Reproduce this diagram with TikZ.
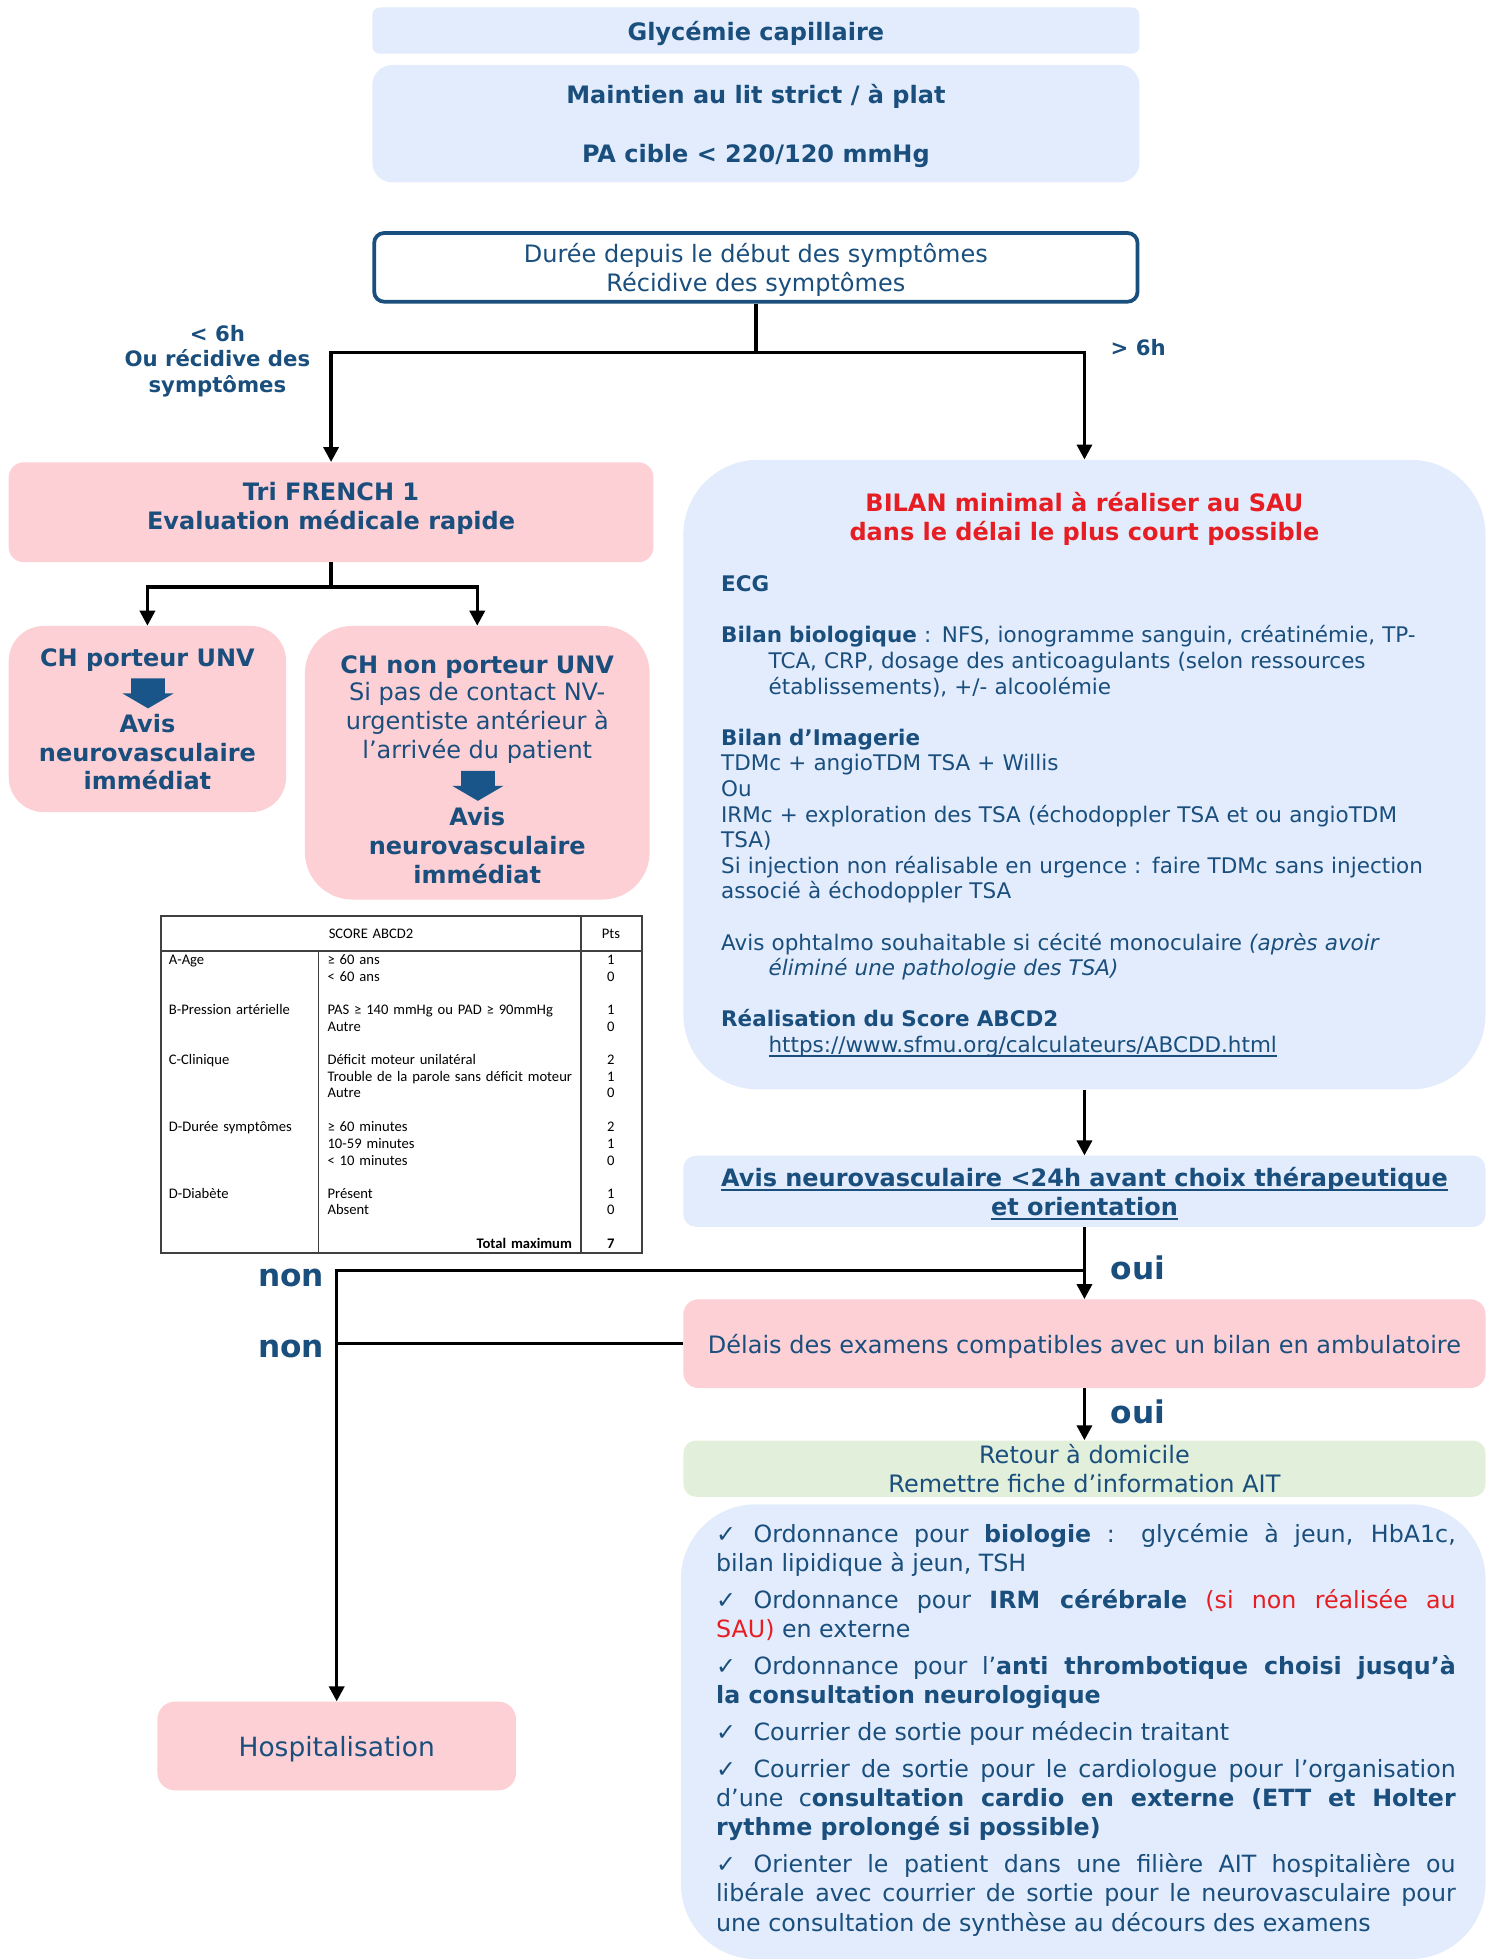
\documentclass[tikz,border=0pt]{standalone}
\usepackage{fontspec}
\setmainfont{DejaVu Sans}
\newfontfamily\tabfont{Carlito}
\usepackage{tikz}
\usetikzlibrary{arrows.meta,positioning,shapes}
\usepackage{xcolor}
\definecolor{avcblue}{RGB}{25,78,125}
\definecolor{avclight}{RGB}{226,236,252}
\definecolor{avcpink}{RGB}{253,208,213}
\definecolor{avcgreen}{RGB}{226,239,218}
\definecolor{avcred}{RGB}{230,30,36}
\definecolor{avcarrow}{RGB}{26,85,138}
\newcommand{\fbase}{\fontsize{19.2}{23}\selectfont}
\newcommand{\fbilan}{\fontsize{17.2}{20.5}\selectfont}
\newcommand{\fliste}{\fontsize{19}{23.3}\selectfont}
\newcommand{\fchoix}{\fontsize{17}{20.5}\selectfont}
\newcommand{\fgros}{\fontsize{25}{30}\selectfont}
\newcommand{\fhosp}{\fontsize{21.2}{25}\selectfont}
\newcommand{\ftab}{\tabfont\fontsize{11.7}{13.3}\selectfont}
\newcommand{\coche}{\makebox[30pt][l]{✓}}
\newcommand{\souligne}[1]{\setbox0\hbox{#1}\rlap{\rule[-3.5pt]{\wd0}{1.4pt}}\box0}
\tikzstyle{bluebox} = [rectangle, rounded corners=12pt, fill=avclight, text=avcblue, align=center, inner sep=0pt, text depth=0pt, font=\fbase]
\tikzstyle{pinkbox} = [bluebox, fill=avcpink]
\tikzstyle{greenbox} = [bluebox, fill=avcgreen]
\tikzstyle{framebox} = [bluebox, fill=white, draw=avcblue, line width=3pt, rounded corners=8pt]
\tikzstyle{link} = [line width=2.8pt, color=black]
\tikzstyle{arrow} = [link, -{Triangle[length=12pt,width=12pt]}]
\tikzstyle{choice} = [text=avcblue, font=\fgros\bfseries, inner sep=0pt]
\tikzstyle{cell} = [anchor=base west, text width=200pt, align=left, font=\ftab, text=black, inner sep=0pt]
\tikzstyle{pts} = [cell, anchor=base, text width=40pt, align=center]
\tikzstyle{tabline} = [line width=1.2pt, color=black!75]
\tikzstyle{bigarrow} = [fill=avcarrow]

\begin{document}
\begin{tikzpicture}[x=1pt, y=-1pt]
\useasboundingbox (0,0) rectangle (1190,1568);

% Top boxes
\node (glycemie) [bluebox, rounded corners=6pt, minimum width=614pt, minimum height=37pt, font=\fbase\bfseries] at (605,24.5) {Glycémie capillaire};
\node (maintien) [bluebox, rounded corners=16pt, minimum width=614pt, minimum height=94pt, font=\fbase\bfseries] at (605,99) {Maintien au lit strict / à plat\\[24pt]PA cible < 220/120 mmHg};
\node (duree) [framebox, minimum width=611pt, minimum height=55pt] at (605,214) {Durée depuis le début des symptômes\\Récidive des symptômes};

% Left branch
\node (tri) [pinkbox, minimum width=516pt, minimum height=80pt] at (265,410) {};
\node (tritext) [text=avcblue, font=\fbase\bfseries, align=center, inner sep=0pt] at (265,407) {Tri FRENCH 1\\Evaluation médicale rapide};
\node (chp) [pinkbox, rounded corners=28pt, minimum width=222pt, minimum height=149pt, font=\fbase\bfseries] at (118,575.5) {CH porteur UNV\\[30pt]Avis\\neurovasculaire\\immédiat};
\node (chnp) [pinkbox, rounded corners=38pt, minimum width=276pt, minimum height=219pt] at (382,610.5) {};
\node (chnptext) [text=avcblue, font=\fbase, align=center, inner sep=0pt] at (382,616) {\textbf{CH non porteur UNV}\\[-1pt]Si pas de contact NV-\\urgentiste antérieur à\\l’arrivée du patient\\[31pt]\textbf{Avis}\\\textbf{neurovasculaire}\\\textbf{immédiat}};
\fill[bigarrow, shift={(118.5,543)}] (-13.5,0) -- (13.5,0) -- (13.5,12) -- (20.5,12) -- (0,24) -- (-20.5,12) -- (-13.5,12) -- cycle;
\fill[bigarrow, shift={(382.5,617)}] (-13.5,0) -- (13.5,0) -- (13.5,12) -- (20.5,12) -- (0,24) -- (-20.5,12) -- (-13.5,12) -- cycle;

% Score ABCD2
\node (score) [draw=black!75, line width=1.2pt, minimum width=385pt, minimum height=270pt, inner sep=0pt] at (321.5,868) {};
\draw[tabline] (129,761) -- (514,761);
\draw[tabline] (465,733) -- (465,1003);
\draw[tabline] (255,761) -- (255,1003);
\node (scoretitre) [pts, text width=200pt] at (297,751) {SCORE ABCD2};
\node (scorepts) [pts] at (489,751) {Pts};
\node (agelbl) [cell] at (135,772) {A-Age};
\node (ageval) [cell] at (262,772) {≥ 60 ans\\< 60 ans};
\node (agepts) [pts] at (489,772) {1\\0};
\node (palbl) [cell] at (135,812) {B-Pression artérielle};
\node (paval) [cell] at (262,812) {PAS ≥ 140 mmHg ou PAD ≥ 90mmHg\\Autre};
\node (papts) [pts] at (489,812) {1\\0};
\node (clinlbl) [cell] at (135,852) {C-Clinique};
\node (clinval) [cell] at (262,852) {Déficit moteur unilatéral\\Trouble de la parole sans déficit moteur\\Autre};
\node (clinpts) [pts] at (489,852) {2\\1\\0};
\node (durlbl) [cell] at (135,906) {D-Durée symptômes};
\node (durval) [cell] at (262,906) {≥ 60 minutes\\10-59 minutes\\< 10 minutes};
\node (durpts) [pts] at (489,906) {2\\1\\0};
\node (diablbl) [cell] at (135,959) {D-Diabète};
\node (diabval) [cell] at (262,959) {Présent\\Absent};
\node (diabpts) [pts] at (489,959) {1\\0};
\node (total) [cell, anchor=base east, align=right, font=\ftab\bfseries] at (458,999) {Total maximum};
\node (totalpts) [pts, font=\ftab\bfseries] at (489,999) {7};

% Right branch
\node (bilan) [bluebox, rounded corners=60pt, minimum width=642pt, minimum height=504pt] at (868,620) {};
\node (bilantitre) [text=avcred, font=\fbase\bfseries, align=center, inner sep=0pt] at (868,415.5) {BILAN minimal à réaliser au SAU\\dans le délai le plus court possible};
\node (bilancorps) [anchor=base west, text=avcblue, font=\fbilan, text width=600pt, align=left, inner sep=0pt] at (577,473.5) {\textbf{ECG}\\[20.5pt]
\textbf{Bilan biologique} : NFS, ionogramme sanguin, créatinémie, TP-\\
\hspace*{38pt}TCA, CRP, dosage des anticoagulants (selon ressources\\
\hspace*{38pt}établissements), +/- alcoolémie\\[20.5pt]
\textbf{Bilan d’Imagerie}\\
TDMc + angioTDM TSA + Willis\\
Ou\\
IRMc + exploration des TSA (échodoppler TSA et ou angioTDM\\
TSA)\\
Si injection non réalisable en urgence : faire TDMc sans injection\\
associé à échodoppler TSA\\[20.5pt]
Avis ophtalmo souhaitable si cécité monoculaire \textit{(après avoir}\\
\hspace*{38pt}\textit{éliminé une pathologie des TSA)}\\[20.5pt]
\textbf{Réalisation du Score ABCD2}\\
\hspace*{38pt}\souligne{https://www.sfmu.org/calculateurs/ABCDD.html}};
\node (avis) [bluebox, rounded corners=10pt, minimum width=642pt, minimum height=57pt, font=\fbase\bfseries] at (868,953.5) {\souligne{Avis neurovasculaire <24h avant choix thérapeutique}\\\souligne{et orientation}};
\node (delais) [pinkbox, minimum width=642pt, minimum height=71pt] at (868,1075.5) {Délais des examens compatibles avec un bilan en ambulatoire};
\node (retour) [greenbox, rounded corners=10pt, minimum width=642pt, minimum height=45pt] at (868,1175.5) {Retour à domicile\\Remettre fiche d’information AIT};
\node (consignes) [bluebox, rounded corners=60pt, minimum width=644pt, minimum height=364pt] at (867,1386) {};
\node (consignestext) [anchor=base west, text=avcblue, text width=592pt, align=justify, font=\fliste, inner sep=0pt] at (573,1234.5) {\setlength{\parskip}{6.3pt}%
\coche Ordonnance pour \textbf{biologie} : glycémie à jeun, HbA1c,\linebreak bilan lipidique à jeun, TSH\par
\coche Ordonnance pour \textbf{IRM cérébrale} \textcolor{avcred}{(si non réalisée au\linebreak SAU)} en externe\par
\coche Ordonnance pour l’\textbf{anti thrombotique choisi jusqu’à\linebreak la consultation neurologique}\par
\coche Courrier de sortie pour médecin traitant\par
\coche Courrier de sortie pour le cardiologue pour l’organisation\linebreak d’une c\textbf{onsultation cardio en externe (ETT et Holter\linebreak rythme prolongé si possible)}\par
\coche Orienter le patient dans une filière AIT hospitalière ou\linebreak libérale avec courrier de sortie pour le neurovasculaire pour\linebreak une consultation de synthèse au décours des examens};
\node (hospit) [pinkbox, rounded corners=14pt, minimum width=287pt, minimum height=71pt, font=\fhosp] at (269.5,1397.5) {Hospitalisation};

% Labels
\node (moins6h) [text=avcblue, font=\fchoix\bfseries, align=center, inner sep=0pt] at (174,289) {< 6h\\Ou récidive des\\symptômes};
\node (plus6h) [text=avcblue, font=\fchoix\bfseries, inner sep=0pt] at (911,278) {> 6h};
\node (oui1) [choice] at (911,1014.5) {oui};
\node (oui2) [choice] at (911,1130) {oui};
\node (non1) [choice] at (233,1023) {non};
\node (non2) [choice] at (233,1080) {non};

% Arrows
\coordinate (fork) at (605,282);
\coordinate (fork2) at (265,470);
\coordinate (split) at (868,1017);
\draw[link] (duree.south) -- (fork);
\draw[arrow] (fork) -| (tri.north);
\draw[arrow] (fork) -| (bilan.north);
\draw[link] (tri.south) -- (fork2);
\draw[arrow] (fork2) -| (chp.north);
\draw[arrow] (fork2) -| (chnp.north);
\draw[arrow] (bilan.south) -- (avis.north);
\draw[arrow] (avis.south) -- (delais.north);
\draw[arrow] (split) -| (hospit.north);
\draw[link] (delais.west) -- (delais.west -| hospit.north);
\draw[arrow] (delais.south) -- (retour.north);
\end{tikzpicture}
\end{document}
